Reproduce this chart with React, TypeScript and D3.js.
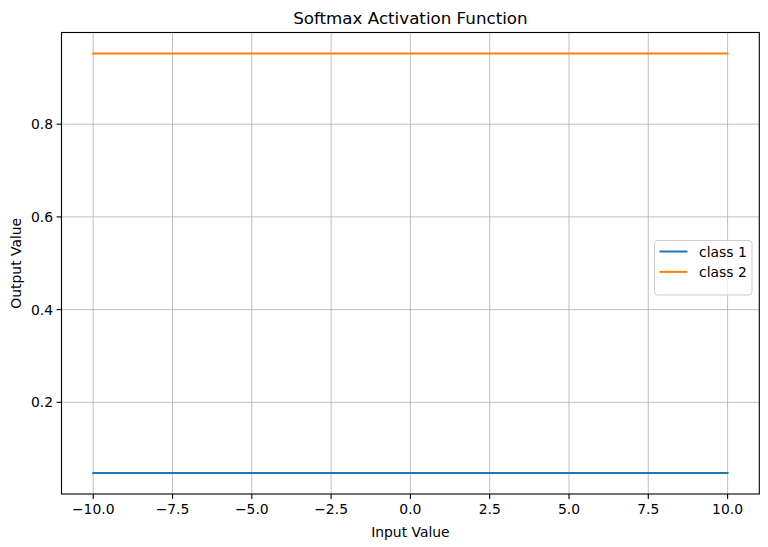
import React from "react";
import * as d3 from "d3";

const inputValues = [-10, 10];
const class1Values = [0.0474, 0.0474];
const class2Values = [0.9526, 0.9526];
const seriesNames = ["class 1", "class 2"];
const seriesColors = ["#1f77b4", "#ff7f0e"];
const xTicks = [-10, -7.5, -5, -2.5, 0, 2.5, 5, 7.5, 10];
const yTicks = [0.2, 0.4, 0.6, 0.8];

const W = 768, H = 547;
const L = 61.5, R = 759.3, T = 32.5, B = 494;
const FONT = "DejaVu Sans, sans-serif";

export default function App() {
  const x = d3.scaleLinear().domain([-11, 11]).range([L, R]);
  const y = d3.scaleLinear().domain([0.00215, 0.99785]).range([B, T]);
  const line = d3.line<[number, number]>().x(d => x(d[0])).y(d => y(d[1]));
  const series = [class1Values, class2Values];
  const fmt = (v: number) => (v < 0 ? "\u2212" : "") + Math.abs(v).toFixed(1);
  const lx = 654.5, ly = 240.5;
  return (
    <svg width={W} height={H} style={{ position: "absolute", left: 0, top: 0, background: "#fff" }} fontFamily={FONT}>
      <rect x={0} y={0} width={W} height={H} fill="#fff" />
      {xTicks.map(t => (
        <line key={"gx" + t} x1={x(t)} x2={x(t)} y1={T} y2={B} stroke="#b0b0b0" strokeWidth={0.8} />
      ))}
      {yTicks.map(t => (
        <line key={"gy" + t} x1={L} x2={R} y1={y(t)} y2={y(t)} stroke="#b0b0b0" strokeWidth={0.8} />
      ))}
      {series.map((s, i) => (
        <path key={i} d={line(inputValues.map((v, j) => [v, s[j]] as [number, number])) || ""} fill="none" stroke={seriesColors[i]} strokeWidth={2} strokeLinecap="square" />
      ))}
      <rect x={L} y={T} width={R - L} height={B - T} fill="none" stroke="#000" strokeWidth={1.1} />
      {xTicks.map(t => (
        <g key={"tx" + t}>
          <line x1={x(t)} x2={x(t)} y1={B} y2={B + 4.9} stroke="#000" strokeWidth={1.1} />
          <text x={x(t)} y={B + 20} textAnchor="middle" fontSize={13.9} fill="#000">{fmt(t)}</text>
        </g>
      ))}
      {yTicks.map(t => (
        <g key={"ty" + t}>
          <line x1={L - 4.9} x2={L} y1={y(t)} y2={y(t)} stroke="#000" strokeWidth={1.1} />
          <text x={L - 8.5} y={y(t) + 5} textAnchor="end" fontSize={13.9} fill="#000">{t.toFixed(1)}</text>
        </g>
      ))}
      <text x={(L + R) / 2} y={537} textAnchor="middle" fontSize={13.9} fill="#000">Input Value</text>
      <text transform={`translate(21, ${(T + B) / 2}) rotate(-90)`} textAnchor="middle" fontSize={13.9} fill="#000">Output Value</text>
      <text x={(L + R) / 2} y={T - 8.5} textAnchor="middle" fontSize={16.7} fill="#000">Softmax Activation Function</text>
      <rect x={lx} y={ly} width={97.5} height={54.5} rx={3} fill="#fff" fillOpacity={0.8} stroke="#cccccc" strokeWidth={1} />
      {seriesNames.map((n, i) => (
        <g key={n}>
          <line x1={lx + 5} x2={lx + 33} y1={ly + 11 + i * 20.4} y2={ly + 11 + i * 20.4} stroke={seriesColors[i]} strokeWidth={2} />
          <text x={lx + 44.5} y={ly + 16 + i * 20.4} fontSize={13.9} fill="#000">{n}</text>
        </g>
      ))}
    </svg>
  );
}
